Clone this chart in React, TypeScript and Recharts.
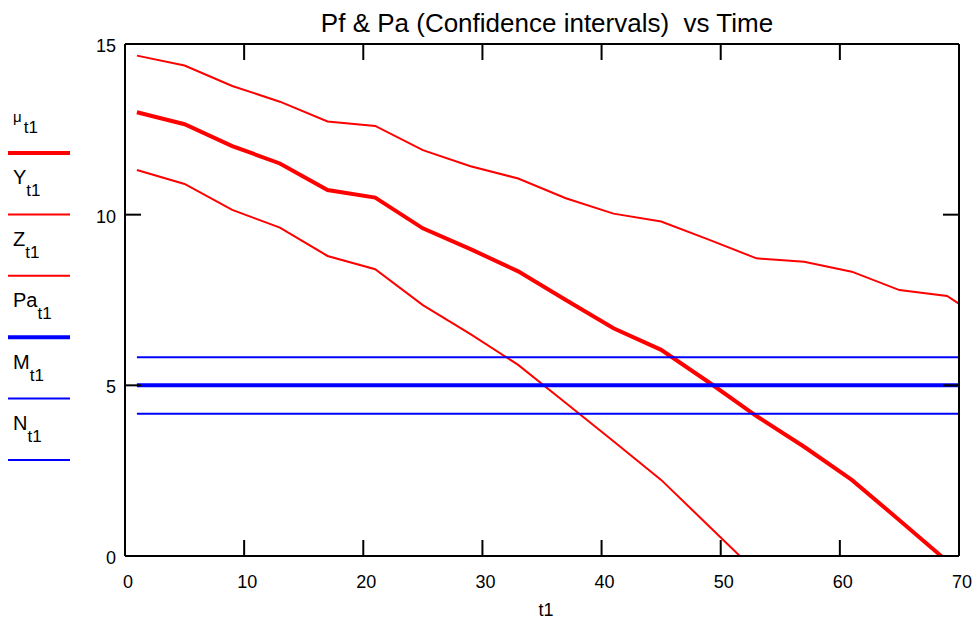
import React from 'react';
import { LineChart, Line, XAxis, YAxis, Legend } from 'recharts';

const tValues = [1, 5, 9, 13, 17, 21, 25, 29, 33, 37, 41, 45, 49, 53, 57, 61, 65, 69, 73];
const muValues = [13.0, 12.65, 12.01, 11.5, 10.72, 10.5, 9.6, 8.99, 8.34, 7.5, 6.67, 6.04, 5.09, 4.1, 3.2, 2.23, 1.05, -0.15, null];
const yValues = [14.66, 14.37, 13.77, 13.31, 12.73, 12.6, 11.89, 11.42, 11.06, 10.48, 10.03, 9.8, 9.27, 8.72, 8.62, 8.33, 7.79, 7.62, 6.7];
const zValues = [11.31, 10.9, 10.14, 9.62, 8.79, 8.4, 7.35, 6.5, 5.6, 4.48, 3.36, 2.23, 0.88, -0.47, null, null, null, null, null];
const paValues = [5, 5, 5, 5, 5, 5, 5, 5, 5, 5, 5, 5, 5, 5, 5, 5, 5, 5, 5];
const mValues = [5.82, 5.82, 5.82, 5.82, 5.82, 5.82, 5.82, 5.82, 5.82, 5.82, 5.82, 5.82, 5.82, 5.82, 5.82, 5.82, 5.82, 5.82, 5.82];
const nValues = [4.17, 4.17, 4.17, 4.17, 4.17, 4.17, 4.17, 4.17, 4.17, 4.17, 4.17, 4.17, 4.17, 4.17, 4.17, 4.17, 4.17, 4.17, 4.17];

const xTicks = [0, 10, 20, 30, 40, 50, 60, 70];
const yTicks = [0, 5, 10, 15];

const seriesMeta = [
  { key: 'mu', main: 'μ', sub: 't1', color: '#ff0000', width: 4, xId: 'bottom', yId: 'left' },
  { key: 'Y', main: 'Y', sub: 't1', color: '#ff0000', width: 2, xId: 'bottom', yId: 'left' },
  { key: 'Z', main: 'Z', sub: 't1', color: '#ff0000', width: 2, xId: 'bottom', yId: 'left' },
  { key: 'Pa', main: 'Pa', sub: 't1', color: '#0000ff', width: 4, xId: 'top', yId: 'right' },
  { key: 'M', main: 'M', sub: 't1', color: '#0000ff', width: 2, xId: 'top', yId: 'right' },
  { key: 'N', main: 'N', sub: 't1', color: '#0000ff', width: 2, xId: 'top', yId: 'right' },
];

const data = tValues.map((t, i) => ({
  t,
  mu: muValues[i],
  Y: yValues[i],
  Z: zValues[i],
  Pa: paValues[i],
  M: mValues[i],
  N: nValues[i],
}));

const FONT = '"Liberation Sans", Arial, sans-serif';
const TICK_LEN = 16;

const BottomTick = (props: any) => {
  const { x, y, payload } = props;
  const edge = payload.value === 0 || payload.value === 70;
  return (
    <g>
      {!edge && <line x1={x} x2={x} y1={y} y2={y - TICK_LEN} stroke="#000" strokeWidth={2} />}
      <text x={x + 3} y={y + 32} textAnchor="middle" fontFamily={FONT} fontSize={18} fill="#000">
        {payload.value}
      </text>
    </g>
  );
};

const TopTick = (props: any) => {
  const { x, y, payload } = props;
  if (payload.value === 0 || payload.value === 70) return null;
  return <line x1={x} x2={x} y1={y} y2={y + TICK_LEN} stroke="#000" strokeWidth={2} />;
};

const LeftTick = (props: any) => {
  const { x, y, payload } = props;
  const edge = payload.value === 0 || payload.value === 15;
  return (
    <g>
      {!edge && <line x1={x} x2={x + TICK_LEN} y1={y} y2={y} stroke="#000" strokeWidth={2} />}
      <text x={x - 9} y={y + 8} textAnchor="end" fontFamily={FONT} fontSize={18} fill="#000">
        {payload.value}
      </text>
    </g>
  );
};

const RightTick = (props: any) => {
  const { x, y, payload } = props;
  if (payload.value === 0 || payload.value === 15) return null;
  return <line x1={x} x2={x - TICK_LEN} y1={y} y2={y} stroke="#000" strokeWidth={2} />;
};

const LegendContent = (props: any) => {
  const payload = props.payload || [];
  return (
    <div style={{ width: 75, height: 380 }}>
      <svg width={75} height={380} style={{ display: 'block' }}>
        {seriesMeta.map((meta, i) => {
          const entry = payload.find((p: any) => p.dataKey === meta.key);
          const color = entry ? entry.color : meta.color;
          const ly = 53 + i * 61.4;
          const isMu = meta.key === 'mu';
          return (
            <g key={meta.key}>
              <text
                x={13}
                y={ly - (isMu ? 31 : 30)}
                fontFamily={FONT}
                fontSize={isMu ? 15 : 20}
                fill="#000"
              >
                {meta.main}
                <tspan dy={isMu ? 11 : 12} fontSize={17} dx={isMu ? 2 : 0}>
                  {meta.sub}
                </tspan>
              </text>
              <line x1={8} x2={70} y1={ly} y2={ly} stroke={color} strokeWidth={meta.width} />
            </g>
          );
        })}
      </svg>
    </div>
  );
};

export default function App() {
  return (
    <div style={{ position: 'absolute', left: 0, top: 0, width: 978, height: 620, background: '#fff', fontFamily: FONT }}>
      <div
        style={{
          position: 'absolute',
          left: 247,
          top: 10,
          width: 600,
          textAlign: 'center',
          fontSize: 26,
          lineHeight: '26px',
          fontFamily: FONT,
          color: '#000',
          whiteSpace: 'pre',
        }}
      >
        {'Pf & Pa (Confidence intervals)  vs Time'}
      </div>
      <LineChart
        width={978}
        height={620}
        data={data}
        margin={{ top: 43, right: 18, bottom: 0, left: 0 }}
        style={{ fontFamily: FONT }}
      >
        <XAxis
          xAxisId="bottom"
          dataKey="t"
          type="number"
          domain={[0, 70]}
          ticks={xTicks}
          allowDataOverflow
          height={64}
          tickSize={0}
          tickMargin={0}
          axisLine={{ stroke: '#000', strokeWidth: 2 }}
          tickLine={false}
          tick={<BottomTick />}
          interval={0}
          label={{ value: 't1', position: 'insideBottom', offset: 4, dx: 4, fill: '#000', fontSize: 18, fontFamily: FONT }}
        />
        <XAxis
          xAxisId="top"
          dataKey="t"
          orientation="top"
          type="number"
          domain={[0, 70]}
          ticks={xTicks}
          allowDataOverflow
          height={1}
          tickSize={0}
          tickMargin={0}
          tick={<TopTick />}
          axisLine={{ stroke: '#000', strokeWidth: 2 }}
          tickLine={false}
          interval={0}
        />
        <YAxis
          yAxisId="left"
          type="number"
          domain={[0, 15]}
          ticks={yTicks}
          allowDataOverflow
          width={50}
          tickSize={0}
          tickMargin={0}
          axisLine={{ stroke: '#000', strokeWidth: 2 }}
          tickLine={false}
          tick={<LeftTick />}
          interval={0}
        />
        <YAxis
          yAxisId="right"
          orientation="right"
          type="number"
          domain={[0, 15]}
          ticks={yTicks}
          allowDataOverflow
          width={1}
          tickSize={0}
          tickMargin={0}
          tick={<RightTick />}
          axisLine={{ stroke: '#000', strokeWidth: 2 }}
          tickLine={false}
          interval={0}
        />
        <Legend
          layout="vertical"
          align="left"
          verticalAlign="top"
          content={<LegendContent />}
          wrapperStyle={{ left: 0, top: 100, width: 75 }}
        />
        {seriesMeta.map((m) => (
          <Line
            key={m.key}
            xAxisId={m.xId}
            yAxisId={m.yId}
            dataKey={m.key}
            name={m.main + ' ' + m.sub}
            type="linear"
            stroke={m.color}
            strokeWidth={m.width}
            dot={false}
            activeDot={false}
            isAnimationActive={false}
            connectNulls={false}
          />
        ))}
      </LineChart>
    </div>
  );
}
